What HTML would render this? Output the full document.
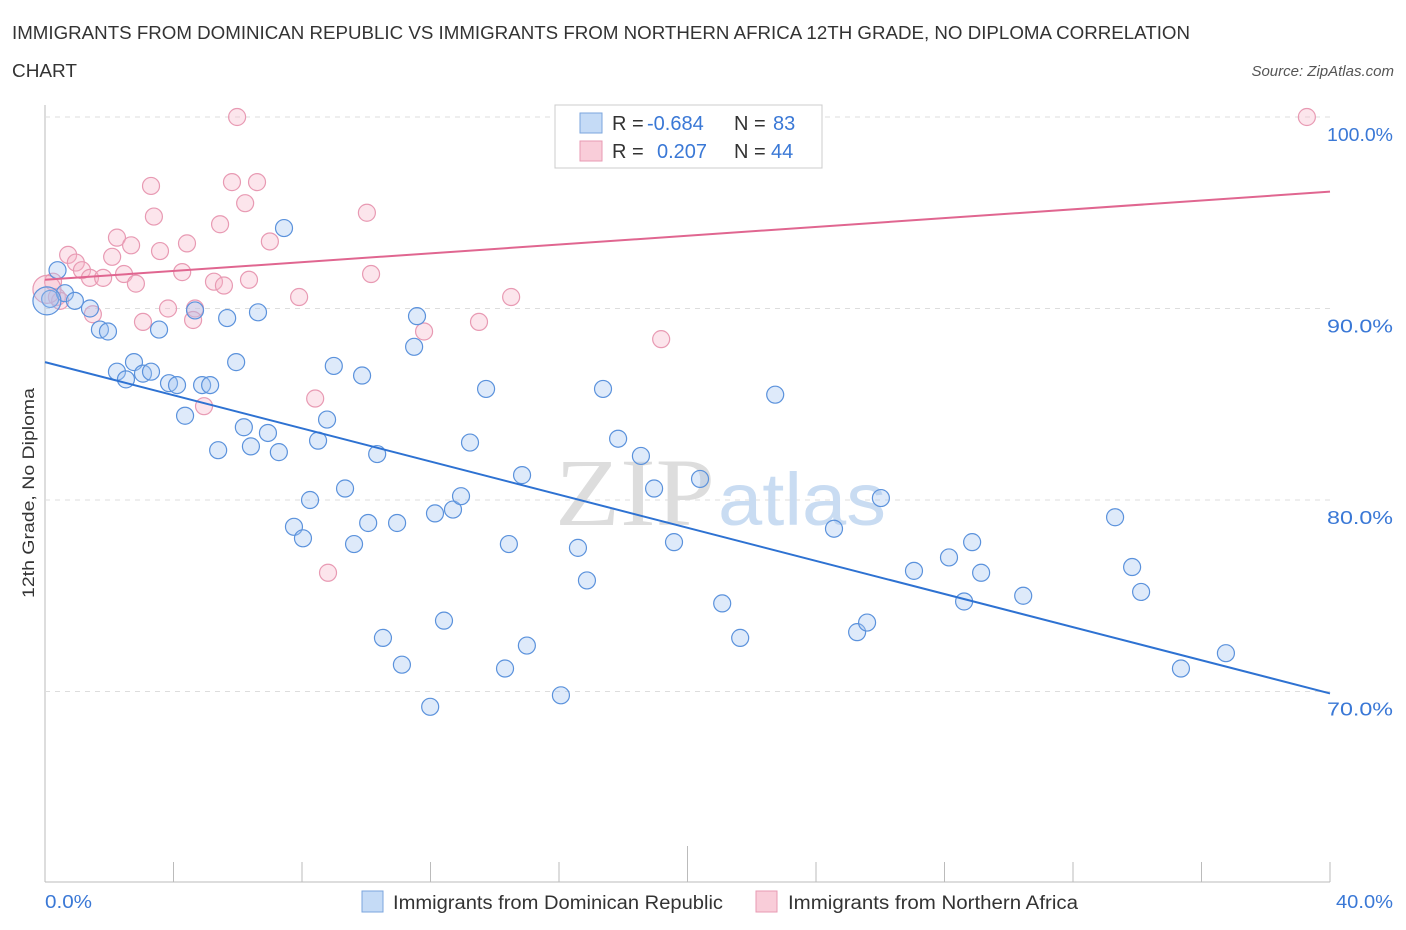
<!DOCTYPE html>
<html><head><meta charset="utf-8"><style>
body{margin:0;background:#fff;font-family:"Liberation Sans",sans-serif}
svg{display:block}
</style></head><body>
<svg width="1406" height="930" xmlns="http://www.w3.org/2000/svg">
<text x="12" y="39" font-size="18" fill="#333" textLength="1178" lengthAdjust="spacingAndGlyphs">IMMIGRANTS FROM DOMINICAN REPUBLIC VS IMMIGRANTS FROM NORTHERN AFRICA 12TH GRADE, NO DIPLOMA CORRELATION</text>
<text x="12" y="77" font-size="18" fill="#333" textLength="65" lengthAdjust="spacingAndGlyphs">CHART</text>
<text x="1394" y="76" font-size="15" fill="#555" font-style="italic" text-anchor="end">Source: ZipAtlas.com</text>
<g id="grid"></g>
<text x="555" y="525" font-size="96" fill="#ddd" textLength="160" lengthAdjust="spacingAndGlyphs" font-family="Liberation Serif">ZIP</text>
<text x="718" y="525" font-size="74" fill="#c9dcf2" textLength="168" lengthAdjust="spacingAndGlyphs">atlas</text>
<g id="pts"></g>
<g id="lines"></g>
<text transform="translate(34,493) rotate(-90)" font-size="17" fill="#333" text-anchor="middle" textLength="210" lengthAdjust="spacingAndGlyphs">12th Grade, No Diploma</text>
<text x="45" y="908" font-size="18" fill="#3a78d6" textLength="47" lengthAdjust="spacingAndGlyphs">0.0%</text>
<text x="1393" y="908" font-size="18" fill="#3a78d6" text-anchor="end" textLength="57" lengthAdjust="spacingAndGlyphs">40.0%</text>
<g>
<rect x="555" y="105" width="267" height="63" fill="#fff" stroke="#ccc"/>
<rect x="580" y="113" width="22" height="20" fill="#c5dbf6" stroke="#7ba6dd"/>
<rect x="580" y="141" width="22" height="20" fill="#f9cdd9" stroke="#e89ab3"/>
<text x="612" y="130" font-size="20" fill="#333">R = <tspan x="647" fill="#3a78d6">-0.684</tspan><tspan x="734">N = </tspan><tspan x="773" fill="#3a78d6">83</tspan></text>
<text x="612" y="158" font-size="20" fill="#333">R = <tspan x="657" fill="#3a78d6">0.207</tspan><tspan x="734">N = </tspan><tspan x="771" fill="#3a78d6">44</tspan></text>
</g>
<g>
<rect x="362" y="891" width="21" height="21" fill="#c5dbf6" stroke="#7ba6dd"/>
<text x="393" y="909" font-size="19" fill="#333" textLength="330" lengthAdjust="spacingAndGlyphs">Immigrants from Dominican Republic</text>
<rect x="756" y="891" width="21" height="21" fill="#f9cdd9" stroke="#e89ab3"/>
<text x="788" y="909" font-size="19" fill="#333" textLength="290" lengthAdjust="spacingAndGlyphs">Immigrants from Northern Africa</text>
</g>
</svg>
<script>
const yTicks=[100,90,80,70];
const xTicks=[0,4,8,12,16,20,24,28,32,36,40];
const blueX=[0.39,0.16,0.62,0.93,1.4,1.71,1.96,2.24,2.52,2.77,3.05,3.3,3.55,3.86,4.11,4.36,4.67,4.89,5.14,5.39,5.67,5.95,6.19,6.41,6.63,6.94,7.28,7.44,7.75,8.03,8.25,8.5,8.78,8.99,9.34,9.62,9.87,10.06,10.34,10.52,10.96,11.11,11.49,11.58,11.99,12.14,12.42,12.7,12.95,13.23,13.73,14.32,14.44,14.85,15.0,16.06,16.59,16.87,17.37,17.84,18.55,18.96,19.58,20.39,21.08,21.64,22.73,24.56,25.28,25.59,26.02,27.05,28.14,28.61,28.86,29.14,30.45,33.31,33.84,34.12,35.36,36.76,0.06];
const blueY=[92.0,90.5,90.8,90.4,90.0,88.9,88.8,86.7,86.3,87.2,86.6,86.7,88.9,86.1,86.0,84.4,89.9,86.0,86.0,82.6,89.5,87.2,83.8,82.8,89.8,83.5,82.5,94.2,78.6,78.0,80.0,83.1,84.2,87.0,80.6,77.7,86.5,78.8,82.4,72.8,78.8,71.4,88.0,89.6,69.2,79.3,73.7,79.5,80.2,83.0,85.8,71.2,77.7,81.3,72.4,69.8,77.5,75.8,85.8,83.2,82.3,80.6,77.8,81.1,74.6,72.8,85.5,78.5,73.1,73.6,80.1,76.3,77.0,74.7,77.8,76.2,75.0,79.1,76.5,75.2,71.2,72.0,90.4];
const pinkX=[5.98,39.28,3.3,5.82,6.6,6.23,3.39,10.02,5.45,2.24,2.68,4.42,7.0,0.72,2.09,3.58,0.96,1.15,2.46,4.27,1.4,1.81,2.83,5.26,6.35,5.57,0.25,0.37,0.47,7.91,10.15,14.51,3.83,4.67,1.49,3.05,4.61,11.8,13.51,19.18,4.95,8.41,8.81,0.06];
const pinkY=[100.0,100.0,96.4,96.6,96.6,95.5,94.8,95.0,94.4,93.7,93.3,93.4,93.5,92.8,92.7,93.0,92.4,92.0,91.8,91.9,91.6,91.6,91.3,91.4,91.5,91.2,91.4,90.6,90.4,90.6,91.8,90.6,90.0,90.0,89.7,89.3,89.4,88.8,89.3,88.4,84.9,85.3,76.2,91.0];
const blueLine=[87.2,69.9], pinkLine=[91.5,96.1];
const NS="http://www.w3.org/2000/svg";
const X=v=>45+v/40*1285, Y=v=>117+(100-v)*19.15;
function mk(t,a,p){const e=document.createElementNS(NS,t);for(const k in a)e.setAttribute(k,a[k]);p.appendChild(e);return e;}
const grid=document.getElementById('grid');
mk('line',{x1:45,y1:105,x2:45,y2:882,stroke:'#bbb'},grid);
mk('line',{x1:45,y1:882,x2:1330,y2:882,stroke:'#bbb'},grid);
yTicks.forEach(t=>{
 const l=mk('line',{x1:45,y1:Y(t),x2:1330,y2:Y(t),stroke:'#ddd','stroke-dasharray':'5,5'},grid);
 
 
 const tx=mk('text',{x:1393,y:Y(t)+24,'font-size':18,fill:'#3a78d6','text-anchor':'end',textLength:66,lengthAdjust:'spacingAndGlyphs'},grid);
 tx.textContent=t.toFixed(1)+'%';
 
 
});
xTicks.forEach((t,i)=>{
 const l=mk('line',{x1:X(t),y1:(i==5?846:862),x2:X(t),y2:882,stroke:'#bbb'},grid);
 
 
});
const pts=document.getElementById('pts');
function dots(xs,ys,fill,stroke,name){xs.forEach((x,i)=>{
 const big=i==xs.length-1;
 const c=mk('circle',{cx:X(x),cy:Y(ys[i]),r:big?14:8.5,fill:fill,stroke:stroke,'stroke-width':1.2},pts);
 
 
});}
dots(pinkX,pinkY,'rgba(246,180,200,0.35)','#e89ab3','pink-point');
dots(blueX,blueY,'rgba(160,196,240,0.35)','#5b92dc','blue-point');
const lines=document.getElementById('lines');
const bl=mk('line',{x1:X(0),y1:Y(blueLine[0]),x2:X(40),y2:Y(blueLine[1]),stroke:'#2e72d2','stroke-width':2},lines);


const pl=mk('line',{x1:X(0),y1:Y(pinkLine[0]),x2:X(40),y2:Y(pinkLine[1]),stroke:'#e06690','stroke-width':2},lines);


</script>
</body></html>
